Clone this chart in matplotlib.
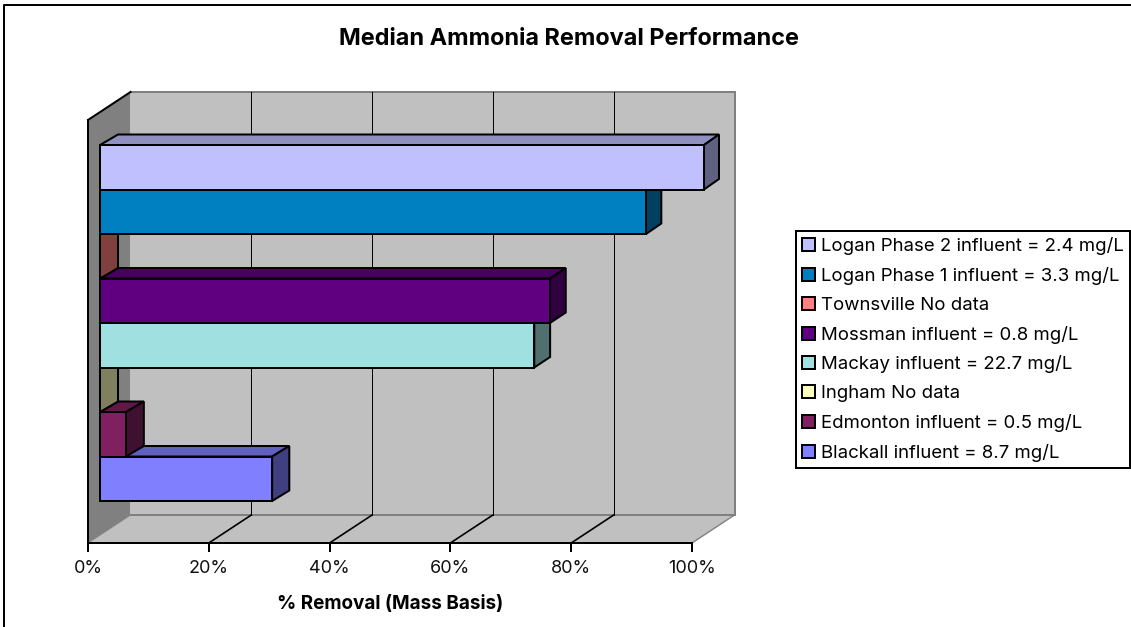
import matplotlib
matplotlib.use('Agg')
import matplotlib.pyplot as plt
from matplotlib.patches import Polygon, Patch
from matplotlib.lines import Line2D

plt.rcParams['font.family'] = ['Inter', 'Liberation Sans', 'DejaVu Sans']

labels = ['Blackall influent = 8.7 mg/L', 'Edmonton influent = 0.5 mg/L', 'Ingham No data',
          'Mackay influent = 22.7 mg/L', 'Mossman influent = 0.8 mg/L', 'Townsville No data',
          'Logan Phase 1 influent = 3.3 mg/L', 'Logan Phase 2 influent = 2.4 mg/L']
removal = [28.5, 4.3, 0, 71.9, 74.5, 0, 90.4, 100]
front_cols = ['#8080FF', '#802060', '#FFFFC0', '#A0E0E0', '#600080', '#FF8080', '#0080C0', '#C0C0FF']
top_cols = ['#6060C0', '#601848', '#C0C090', '#78A8A8', '#480060', '#C06060', '#006090', '#9090C0']
side_cols = ['#404080', '#401030', '#808060', '#507070', '#300040', '#804040', '#004060', '#606080']
xticks = [0, 20, 40, 60, 80, 100]

W, H = 1131, 627
# pixel sizes of the box
x0, x1 = 88, 692
y_floor, y_top = 543, 120
px_x = (x1 - x0) / 100
px_y = 44.5
wall_dx, wall_dy = 42.5, 28
bar_dx, bar_dy = 12, 8
bar_depth_x, bar_depth_y = 18, 10.5
ymin = -(y_floor - (501 + bar_dy)) / px_y
ymax = ((501 + bar_dy) - y_top) / px_y

fig = plt.figure(figsize=(W / 100, H / 100), dpi=100)
ax = fig.add_axes([x0 / W, 1 - y_floor / H, (x1 - x0) / W, (y_floor - y_top) / H])
ax.set_xlim(0, 100)
ax.set_ylim(ymin, ymax)


# shift a data point back into the box by some pixels
def shift(x, y, dx, dy):
    return (x + dx / px_x, y + dy / px_y)


def add_poly(pts, fc, ec='none', lw=0, z=1):
    ax.add_patch(Polygon(pts, closed=True, fc=fc, ec=ec, lw=lw, zorder=z,
                         clip_on=False, joinstyle='miter'))


def add_line(a, b, col, lw, z=1.5):
    ax.plot([a[0], b[0]], [a[1], b[1]], color=col, lw=lw, zorder=z,
            clip_on=False, solid_capstyle='projecting')


bl = (0, ymin)
br = (100, ymin)
tl = (0, ymax)
back = lambda p: shift(p[0], p[1], wall_dx, wall_dy)

# walls and floor
add_poly([bl, tl, back(tl), back(bl)], '#808080')
add_poly([bl, br, back(br), back(bl)], '#C0C0C0')
add_poly([back(bl), back(br), shift(100, ymax, wall_dx, wall_dy), back(tl)], '#C0C0C0')

grey = '#808080'
add_line(back(bl), back(br), grey, 1.44)
add_line(back(br), shift(100, ymax, wall_dx, wall_dy), grey, 1.44)
add_line(back(tl), shift(100, ymax, wall_dx, wall_dy), grey, 1.44)
add_line(br, back(br), grey, 1.0)
add_line(bl, back(bl), grey, 0.7)
add_line(tl, back(tl), 'black', 1.44)

for t in xticks[1:-1]:
    add_line((t, ymin), back((t, ymin)), 'black', 1.2)
    add_line(back((t, ymin)), back((t, ymax)), 'black', 0.72)

# bars, lowest first so each upper one overlaps the one below
for i, v in enumerate(removal):
    x_a, x_b = bar_dx / px_x, v + bar_dx / px_x
    y_a, y_b = i + 0.0, i + 1.0
    # depth narrows slightly further along the axis
    depth = bar_depth_x - 3 * v / 100
    fa = (x_a, y_a + bar_dy / px_y)
    fb = (x_b, y_a + bar_dy / px_y)
    fc_ = (x_b, y_b + bar_dy / px_y)
    fd = (x_a, y_b + bar_dy / px_y)
    top = [fd, fc_, shift(*fc_, depth, bar_depth_y), shift(*fd, bar_depth_x, bar_depth_y)]
    side = [fb, fc_, shift(*fc_, depth, bar_depth_y), shift(*fb, depth, bar_depth_y)]
    add_poly(top, top_cols[i], 'black', 1.44, z=3 + i * 0.1)
    add_poly(side, side_cols[i], 'black', 1.44, z=3 + i * 0.1)
    add_poly([fa, fb, fc_, fd], front_cols[i], 'black', 1.44, z=3.05 + i * 0.1)

for name in ['top', 'right']:
    ax.spines[name].set_visible(False)
for name in ['left', 'bottom']:
    ax.spines[name].set_linewidth(1.44)
ax.patch.set_visible(False)
ax.set_yticks([])
ax.set_xticks(xticks)
ax.set_xticklabels([f'{t}%' for t in xticks], fontsize=13)
ax.tick_params(axis='x', length=6.5, width=1.44, pad=5.5, color='black', labelcolor='#111111')

fig.text(569 / W, 1 - 39 / H, 'Median Ammonia Removal Performance', fontsize=16.9,
         fontweight='bold', ha='center', va='center')
fig.text(390 / W, 1 - 604 / H, '% Removal (Mass Basis)', fontsize=13.6,
         fontweight='bold', ha='center', va='center')

handles = [Patch(fc=c, ec='black', lw=1.44) for c in front_cols[::-1]]
leg = fig.legend(handles, labels[::-1], loc='upper left',
                 bbox_to_anchor=(796 / W, 1 - 231 / H), bbox_transform=fig.transFigure,
                 fontsize=13.4, frameon=True, fancybox=False, edgecolor='black', framealpha=1,
                 borderpad=0.33, labelspacing=0.635, handlelength=0.7, handleheight=0.7,
                 handletextpad=0.3, borderaxespad=0)
leg.get_frame().set_linewidth(1.44)

# chart border, cut off on the right and at the bottom
fig.add_artist(Line2D([4 / W, 4 / W, 1], [0, 1 - 5 / H, 1 - 5 / H], transform=fig.transFigure,
                      color='black', lw=1.44))

fig.savefig('out.png', dpi=100)
